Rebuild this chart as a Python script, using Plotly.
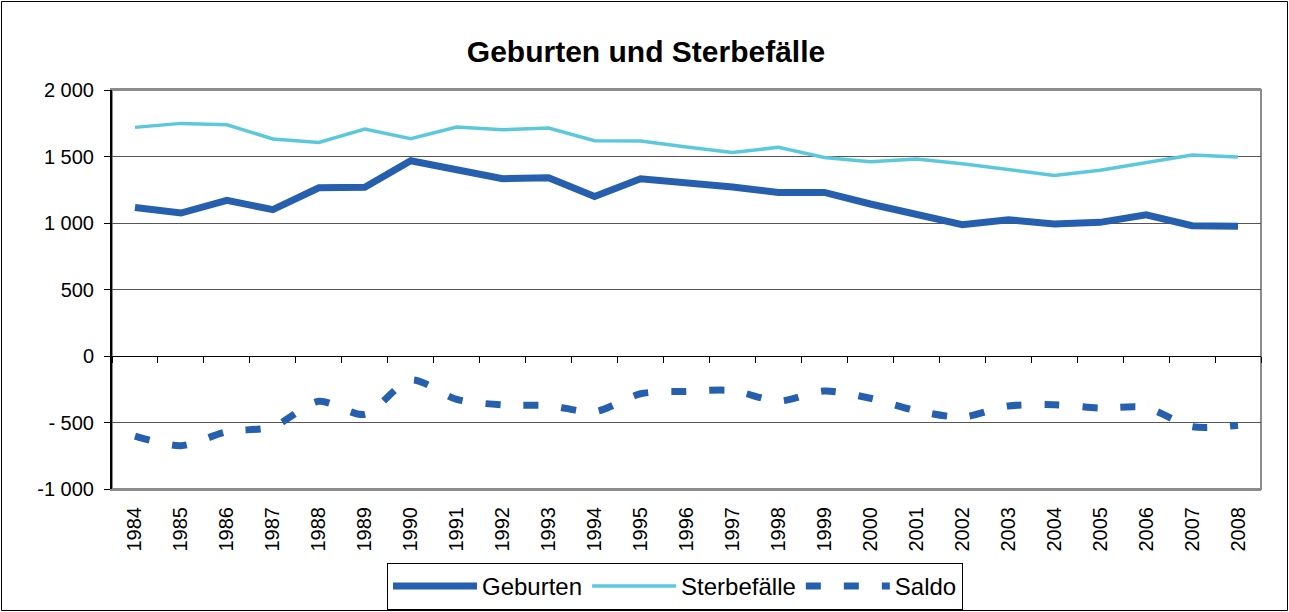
import plotly.graph_objects as go

years = [str(y) for y in range(1984, 2009)]
geburten = [1117, 1075, 1170, 1100, 1265, 1268, 1468, 1396, 1333, 1341, 1200, 1333, 1305,
            1271, 1230, 1230, 1143, 1070, 987, 1025, 992, 1005, 1062, 980, 975]
sterbefaelle = [1719, 1749, 1739, 1632, 1606, 1707, 1634, 1722, 1701, 1714, 1619, 1617, 1571,
                1531, 1569, 1493, 1461, 1481, 1446, 1401, 1358, 1396, 1451, 1511, 1496]
saldo = [-602, -674, -569, -532, -341, -439, -180, -326, -368, -373, -419, -284, -266,
         -260, -339, -263, -318, -411, -459, -376, -366, -391, -389, -531, -521]

ytick_vals = [2000, 1500, 1000, 500, 0, -500, -1000]
ytick_text = ["2 000", "1 500", "1 000", "500", "0", "- 500", "-1 000"]

dark_blue = "#255FAD"
light_blue = "#5BC9DB"

fig = go.Figure()
fig.add_trace(go.Scatter(x=years, y=geburten, name="Geburten", mode="lines",
                         line=dict(color=dark_blue, width=7)))
fig.add_trace(go.Scatter(x=years, y=sterbefaelle, name="Sterbefälle", mode="lines",
                         line=dict(color=light_blue, width=3.5)))
fig.add_trace(go.Scatter(x=years, y=saldo, name="Saldo", mode="lines",
                         line=dict(color=dark_blue, width=7, dash="15px,23px",
                                   shape="spline", smoothing=0.8)))
# helper trace for tick axis on the zero line
fig.add_trace(go.Scatter(x=[], y=[], xaxis="x2", showlegend=False, hoverinfo="skip"))

W, H = 1289, 612
ml, mr, mt, mb = 112, 28, 90, 123
pw, ph = W - ml - mr, H - mt - mb

fig.update_layout(
    width=W, height=H,
    margin=dict(l=ml, r=mr, t=mt, b=mb, autoexpand=False),
    paper_bgcolor="white", plot_bgcolor="white",
    font=dict(family="Liberation Sans, Arial, sans-serif", color="black", size=20),
    title=dict(text="<b>Geburten und Sterbefälle</b>", x=(646 - ml) / pw, xref="paper",
               xanchor="center", y=1 - 51 / H, yref="container", yanchor="middle",
               font=dict(size=30, color="black")),
    showlegend=True,
    legend=dict(orientation="h", x=(675 - ml) / pw, xanchor="center",
                y=-(563 - mt - ph) / ph, yanchor="top", bordercolor="black", borderwidth=1,
                font=dict(size=24), itemwidth=84, tracegroupgap=0, bgcolor="white"),
    xaxis=dict(type="category", categoryorder="array", categoryarray=years,
               range=[-0.5, len(years) - 0.5], showgrid=False, ticks="", showline=True,
               linecolor="#8c8c8c", linewidth=2, mirror=True,
               tickangle=-90, tickfont=dict(size=20), zeroline=False,
               ticklabelstandoff=8),
    xaxis2=dict(overlaying="x", anchor="free", position=1 / 3, type="linear",
                range=[-0.5, len(years) - 0.5], tick0=0.5, dtick=1, ticks="outside",
                ticklen=6, tickcolor="black", tickwidth=1, showticklabels=False,
                showline=True, linecolor="black", linewidth=1, showgrid=False, zeroline=False,
                side="bottom"),
    yaxis=dict(range=[-1000, 2000], tickvals=ytick_vals, ticktext=ytick_text,
               showgrid=True, gridcolor="#555555", gridwidth=1, zeroline=False,
               showline=True, linecolor="black", linewidth=2, ticks="outside",
               ticklen=6, tickcolor="black", tickfont=dict(size=20),
               ticklabelstandoff=6),
)

# plot-area frame (grey) and outer border around whole chart
fig.add_shape(type="rect", xref="paper", yref="paper", x0=0, x1=1, y0=0, y1=1,
              line=dict(color="#8c8c8c", width=2), layer="below")
fig.add_shape(type="rect", xref="paper", yref="paper",
              x0=-(ml - 1.5) / pw, x1=1 + (mr - 1.5) / pw,
              y0=-(mb - 1.5) / ph, y1=1 + (mt - 1.5) / ph,
              line=dict(color="black", width=1), layer="below")

fig.write_html("out.html", post_script="document.body.style.margin='0px';",
               config={"displayModeBar": False})
